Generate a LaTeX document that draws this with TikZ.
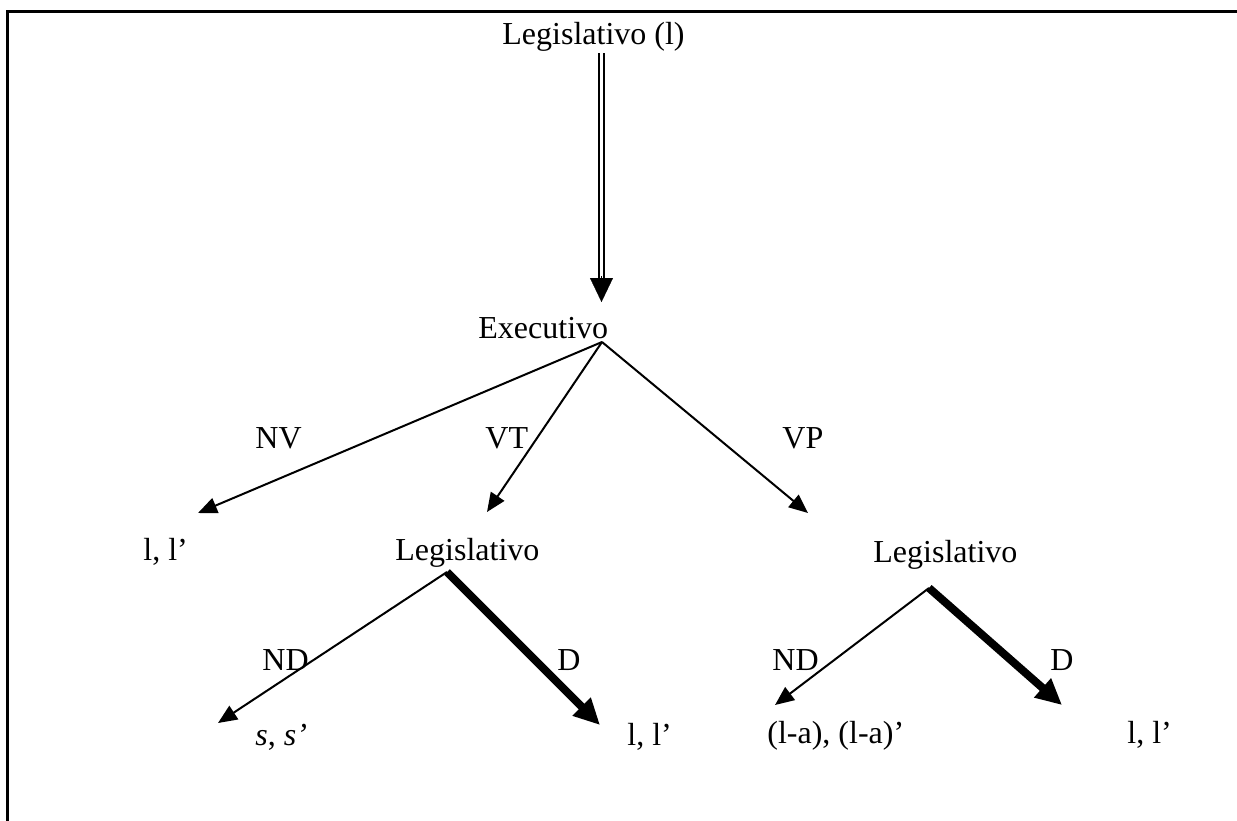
\documentclass[tikz,border=0pt]{standalone}
\usepackage{fontspec}
\setmainfont{Liberation Serif}
\usetikzlibrary{arrows.meta}
\begin{document}
\begin{tikzpicture}[x=0.5pt,y=-0.5pt,
  lbl/.style={anchor=base west,inner sep=0pt,font=\fontsize{16}{19}\selectfont},
  thinarr/.style={line width=1pt,-{Triangle[length=9.5pt,width=8pt]}},
  thickarr/.style={line width=4pt,-{Triangle[length=13pt,width=12pt]}},
  frame/.style={line width=1.5pt}]
\useasboundingbox (0,0) rectangle (1237,820);
% frame
\coordinate (fl) at (7,822);
\coordinate (fc) at (7,11);
\coordinate (fr) at (1237,11);
\draw[frame] (fl) -- (fc) -- (fr);
% texts
\node[lbl] (top) at (502,44) {Legislativo (l)};
\node[lbl] (exec) at (478,338) {Executivo};
\node[lbl] (nv) at (255,448) {NV};
\node[lbl] (vt) at (485,448) {VT};
\node[lbl] (vp) at (782,448) {VP};
\node[lbl] (ll1) at (143,560) {l, l’};
\node[lbl] (legL) at (395,560) {Legislativo};
\node[lbl] (legR) at (873,562) {Legislativo};
\node[lbl] (ndL) at (262,670) {ND};
\node[lbl] (dL) at (557,670) {D};
\node[lbl] (ndR) at (772,670) {ND};
\node[lbl] (dR) at (1050,670) {D};
\node[lbl] (ss) at (255,745) {\textit{s}, \textit{s’}};
\node[lbl] (ll2) at (627,745) {l, l’};
\node[lbl] (la) at (767,743) {(l-a), (l-a)’};
\node[lbl] (ll3) at (1127,743) {l, l’};
% junctions and tips
\coordinate (ds) at (601.5,53);
\coordinate (dm) at (601.5,280);
\coordinate (dt) at (601.5,302);
\coordinate (ej) at (602,342);
\coordinate (tNV) at (198,513);
\coordinate (tVT) at (487,512);
\coordinate (tVP) at (808,513);
\coordinate (jL) at (447,572);
\coordinate (tNDL) at (218,723);
\coordinate (tDL) at (600,725);
\coordinate (jR) at (929,588);
\coordinate (tNDR) at (775,705);
\coordinate (tDR) at (1062,705);
% double arrow
\draw[line width=1pt,double distance=1.6pt] (ds) -- (dm);
\draw[line width=0.1pt,-{Triangle[length=12pt,width=11.5pt]}] ([yshift=2pt]dm) -- (dt);
% arrows
\draw[thinarr] (ej) -- (tNV);
\draw[thinarr] (ej) -- (tVT);
\draw[thinarr] (ej) -- (tVP);
\draw[thinarr] (jL) -- (tNDL);
\draw[thickarr] (jL) -- (tDL);
\draw[thinarr] (jR) -- (tNDR);
\draw[thickarr] (jR) -- (tDR);
\end{tikzpicture}
\end{document}
